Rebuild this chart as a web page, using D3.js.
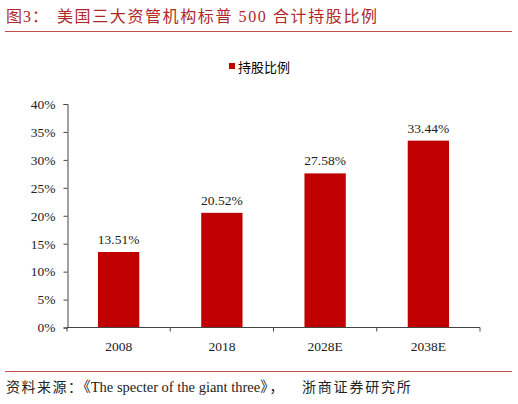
<!DOCTYPE html>
<html><head><meta charset="utf-8">
<script src="https://cdn.jsdelivr.net/npm/d3@7"></script>
<style>body{margin:0;background:#fff}svg{display:block}</style>
</head><body>
<script>
const categories = ["2008", "2018", "2028E", "2038E"];
const values = [13.51, 20.52, 27.58, 33.44];
const yTicks = [0, 5, 10, 15, 20, 25, 30, 35, 40];
const seriesName = "持股比例";
const titleLabel = "图3：";
const titleText = "美国三大资管机构标普 500 合计持股比例";
const sourceParts = ["资料来源：", "《The specter of the giant three》", "，", "浙商证券研究所"];

const W = 518, H = 404;
const svg = d3.select("body").append("svg").attr("width", W).attr("height", H);
const red = "#c00000";
const serif = "'Liberation Serif','Times New Roman',serif";
const cjk = "'Noto Sans CJK SC','Noto Sans',sans-serif";
const titleFont = "'Liberation Serif','Noto Sans CJK SC',serif";

// title
const t = svg.append("text").attr("y", 22).attr("fill", "#b0282c")
  .style("font-family", titleFont).style("font-size", "16px");
t.append("tspan").attr("x", 6).style("letter-spacing", "1px").text(titleLabel);
t.append("tspan").attr("x", 57).style("letter-spacing", "1.6px").text(titleText);
svg.append("line").attr("x1", 5).attr("x2", 512).attr("y1", 31.5).attr("y2", 31.5)
  .attr("stroke", "#c0504d").attr("stroke-width", 1);

// legend
svg.append("rect").attr("x", 229).attr("y", 63).attr("width", 6).attr("height", 6).attr("fill", red);
svg.append("text").attr("x", 238).attr("y", 71.5).attr("fill", "#000")
  .style("font-family", cjk).style("font-size", "13px").text(seriesName);

const x = d3.scaleBand().domain(categories).range([67, 480]).paddingInner(0.6).paddingOuter(0.3);
const y = d3.scaleLinear().domain([0, 40]).range([327.5, 104]);

// bars
svg.append("g").selectAll("rect").data(values).join("rect")
  .attr("x", (d, i) => x(categories[i]))
  .attr("width", x.bandwidth())
  .attr("y", d => y(d))
  .attr("height", d => y(0) - y(d))
  .attr("fill", red);

// labels
svg.append("g").selectAll("text").data(values).join("text")
  .attr("x", (d, i) => x(categories[i]) + x.bandwidth() / 2)
  .attr("y", d => y(d) - 8)
  .attr("text-anchor", "middle")
  .style("font-family", serif).style("font-size", "13.5px").attr("fill", "#222")
  .text(d => d.toFixed(2) + "%");

// y axis
const yAxis = d3.axisLeft(y).tickValues(yTicks).tickFormat(d => d + "%").tickSize(4).tickPadding(8);
const gy = svg.append("g").attr("transform", "translate(67.5,0)").call(yAxis);
gy.selectAll("text").style("font-family", serif).style("font-size", "13.5px").attr("fill", "#222");
gy.selectAll("line,path").attr("stroke", "#444");

// x axis with boundary ticks
const gx = svg.append("g").attr("transform", "translate(0,327.5)");
gx.append("line").attr("x1", 67).attr("x2", 480).attr("stroke", "#444");
const bounds = d3.range(categories.length + 1).map(i => 67 + i * (413 / categories.length));
gx.selectAll(".tk").data(bounds).join("line").attr("x1", d => d).attr("x2", d => d)
  .attr("y1", 0).attr("y2", 4).attr("stroke", "#444");
gx.selectAll("text").data(categories).join("text")
  .attr("x", d => x(d) + x.bandwidth() / 2).attr("y", 23)
  .attr("text-anchor", "middle").style("font-family", serif).style("font-size", "13.5px").attr("fill", "#222")
  .text(d => d);

// footer
svg.append("line").attr("x1", 5).attr("x2", 512).attr("y1", 371.5).attr("y2", 371.5)
  .attr("stroke", "#c0504d").attr("stroke-width", 1);
const f = svg.append("text").attr("y", 392).attr("fill", "#222")
  .style("font-family", "'Liberation Serif','Noto Sans CJK SC',serif").style("font-size", "14px");
f.append("tspan").attr("x", 6).style("letter-spacing", "1.5px").text(sourceParts[0]);
f.append("tspan").style("font-size", "14.5px").text(sourceParts[1]);
f.append("tspan").attr("dx", 2).text(sourceParts[2]);
f.append("tspan").attr("x", 302).style("letter-spacing", "1.8px").text(sourceParts[3]);
</script>
</body></html>
